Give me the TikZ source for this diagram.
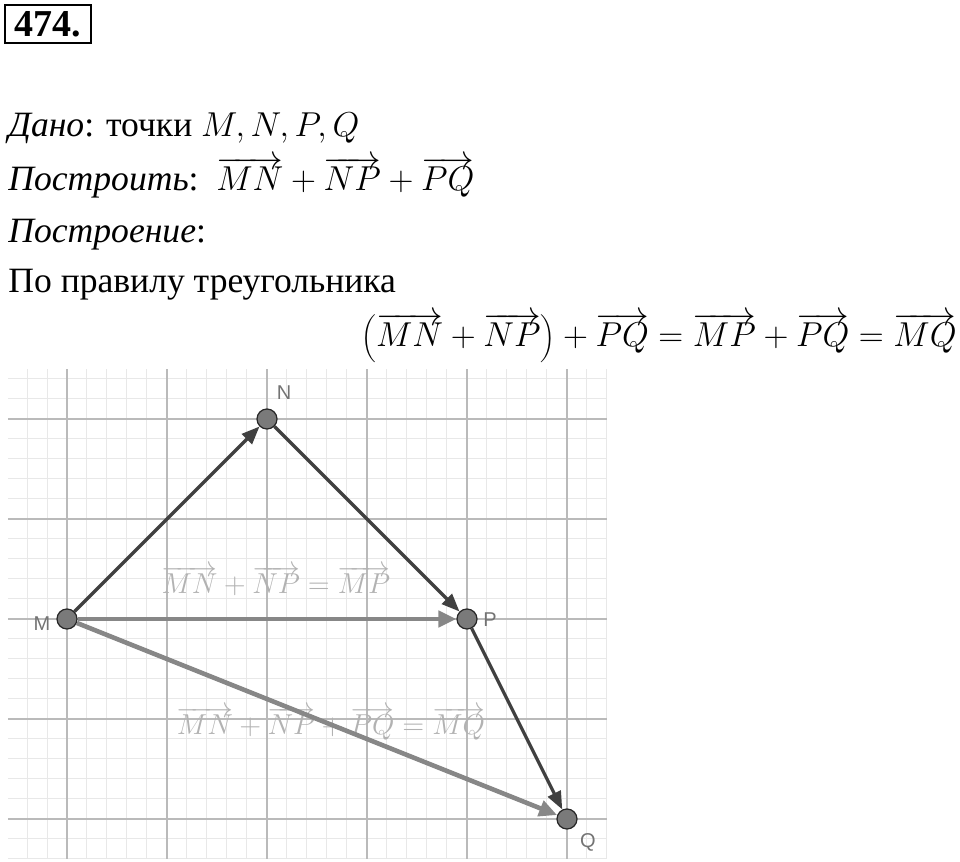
\documentclass[tikz,border=0pt]{standalone}
\usepackage{fontspec}
\setmainfont{Liberation Serif}
\setsansfont{Liberation Sans}
\usetikzlibrary{arrows.meta}

\tikzset{
  minorgrid/.style={draw=black!9, line width=0.5pt},
  majorgrid/.style={draw=black!27, line width=0.8pt},
  pt/.style={circle, fill=black!52, draw=black!85, line width=0.6pt, minimum size=10pt, inner sep=0pt},
  vecdark/.style={draw=black!75, line width=1.6pt, -{Triangle[length=9pt,width=7pt]}},
  veclight/.style={draw=black!47, line width=2.3pt, -{Triangle[length=9pt,width=8pt]}},
  lab/.style={font=\sffamily\fontsize{10}{12}\selectfont, text=black!55, inner sep=0pt},
  sumlab/.style={text=black!30, font=\fontsize{14}{16}\selectfont, anchor=base, inner sep=0pt},
  txt/.style={anchor=base west, inner sep=0pt}
}
\newcommand{\vv}[1]{\overrightarrow{#1}}

\begin{document}
\begin{tikzpicture}[x=50pt, y=50pt, font=\fontsize{17.8}{20}\selectfont]
  \useasboundingbox (-0.67,-2.43) rectangle (8.93,6.19);

  % heading and text
  \node[draw, line width=1.3pt, minimum width=43pt, minimum height=19pt, inner sep=0pt,
        font=\bfseries\fontsize{19}{19}\selectfont] (num) at (-0.19,5.95) {474.};
  \node[txt] (given) at (-0.59,4.82) {\textit{Дано}: точки $M,N,P,Q$};
  \node[txt] (task) at (-0.59,4.28) {\textit{Построить}:\ \ $\vv{MN}+\vv{NP}+\vv{PQ}$};
  \node[txt] (constr) at (-0.59,3.76) {\textit{Построение}:};
  \node[txt] (rule) at (-0.59,3.26) {По правилу треугольника};
  \node[anchor=base east, inner sep=0pt, font=\fontsize{16.4}{20}\selectfont] (eq) at (8.9,2.72)
    {$\left(\vv{MN}+\vv{NP}\right)+\vv{PQ}=\vv{MP}+\vv{PQ}=\vv{MQ}$};

  % grid
  \draw[minorgrid, step=0.2] (-0.59,-2.4) grid (5.4,2.5);
  \draw[majorgrid, step=1] (-0.59,-2.4) grid (5.4,2.5);

  % sums
  \node[sumlab] (s1) at (2.09,0.25) {$\vv{MN}+\vv{NP}=\vv{MP}$};
  \node[sumlab] (s2) at (2.64,-1.16) {$\vv{MN}+\vv{NP}+\vv{PQ}=\vv{MQ}$};

  % points
  \node[pt] (M) at (0,0) {};
  \node[pt] (N) at (2,2) {};
  \node[pt] (P) at (4,0) {};
  \node[pt] (Q) at (5,-2) {};
  \node[lab] (lM) at (-0.25,-0.05) {M};
  \node[lab] (lN) at (2.17,2.26) {N};
  \node[lab] (lP) at (4.23,-0.01) {P};
  \node[lab] (lQ) at (5.21,-2.23) {Q};

  % vectors
  \draw[veclight] (M) -- (P);
  \draw[veclight] (M) -- (Q);
  \draw[vecdark] (M) -- (N);
  \draw[vecdark] (N) -- (P);
  \draw[vecdark] (P) -- (Q);
\end{tikzpicture}
\end{document}
